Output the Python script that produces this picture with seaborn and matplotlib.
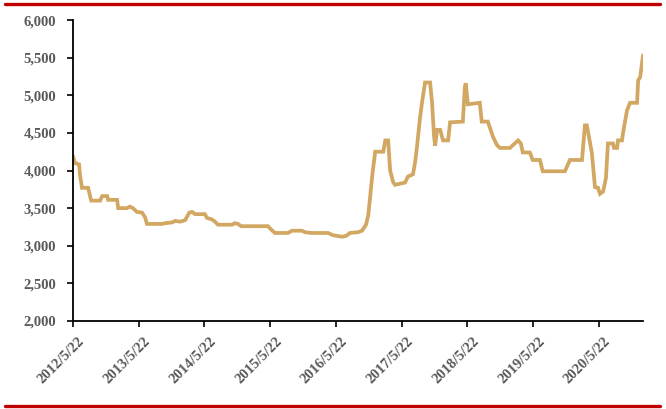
import matplotlib
matplotlib.use("Agg")
import matplotlib.pyplot as plt
import matplotlib.transforms as mtransforms
from matplotlib.lines import Line2D
from matplotlib.ticker import FuncFormatter, MultipleLocator
import pandas as pd
import seaborn as sns

# Price series (yuan/ton), sampled at turning points
dates = [
    "2012-05-22", "2012-06-02", "2012-06-25", "2012-06-30", "2012-07-11", "2012-08-14",
    "2012-08-31", "2012-10-20", "2012-10-31", "2012-11-28", "2012-12-03", "2013-01-22",
    "2013-01-28", "2013-03-18", "2013-04-03", "2013-04-20", "2013-05-12", "2013-06-10",
    "2013-06-26", "2013-07-07", "2013-09-29", "2013-10-16", "2013-11-24", "2013-12-11",
    "2014-01-07", "2014-02-04", "2014-02-27", "2014-03-15", "2014-04-01", "2014-05-25",
    "2014-06-05", "2014-07-03", "2014-07-20", "2014-08-05", "2014-10-22", "2014-11-08",
    "2014-11-25", "2014-12-12", "2015-05-10", "2015-05-26", "2015-06-18", "2015-08-29",
    "2015-09-21", "2015-11-15", "2015-12-02", "2016-01-04", "2016-04-08", "2016-05-06",
    "2016-06-25", "2016-07-17", "2016-08-08", "2016-09-22", "2016-10-14", "2016-11-05",
    "2016-11-17", "2016-11-28", "2016-12-09", "2016-12-26", "2017-02-09", "2017-02-20",
    "2017-03-08", "2017-03-19", "2017-04-04", "2017-04-15", "2017-06-10", "2017-06-26",
    "2017-07-24", "2017-08-04", "2017-08-15", "2017-09-01", "2017-09-12", "2017-09-29",
    "2017-10-27", "2017-11-07", "2017-11-18", "2017-11-24", "2017-12-05", "2017-12-22",
    "2018-01-07", "2018-02-04", "2018-02-15", "2018-04-27", "2018-05-08", "2018-05-13",
    "2018-05-25", "2018-07-30", "2018-08-10", "2018-09-13", "2018-10-11", "2018-11-02",
    "2018-11-19", "2019-01-14", "2019-01-31", "2019-02-28", "2019-03-15", "2019-03-26",
    "2019-05-04", "2019-05-20", "2019-06-29", "2019-07-15", "2019-11-15", "2019-11-26",
    "2019-12-13", "2020-02-18", "2020-03-05", "2020-03-16", "2020-04-13", "2020-04-30",
    "2020-05-17", "2020-05-28", "2020-06-14", "2020-06-30", "2020-07-11", "2020-08-08",
    "2020-08-14", "2020-08-31", "2020-09-05", "2020-09-27", "2020-10-03", "2020-10-25",
    "2020-11-11", "2020-12-20", "2020-12-26", "2021-01-06", "2021-01-22",
]
prices = [
    4190, 4100, 4080, 3940, 3770, 3770,
    3600, 3600, 3660, 3660, 3610, 3610,
    3500, 3500, 3520, 3500, 3450, 3440,
    3380, 3290, 3290, 3300, 3310, 3330,
    3320, 3340, 3440, 3450, 3420, 3420,
    3370, 3350, 3320, 3280, 3280, 3300,
    3290, 3260, 3260, 3220, 3170, 3170,
    3200, 3200, 3180, 3170, 3170, 3140,
    3120, 3130, 3170, 3180, 3200, 3280,
    3400, 3650, 3920, 4250, 4250, 4400,
    4400, 4000, 3850, 3810, 3840, 3920,
    3950, 4100, 4310, 4700, 4900, 5170,
    5170, 4900, 4450, 4330, 4540, 4540,
    4400, 4400, 4640, 4650, 5110, 5160,
    4880, 4900, 4650, 4650, 4450, 4340,
    4300, 4300, 4340, 4400, 4360, 4240,
    4240, 4140, 4140, 3990, 3990, 4050,
    4140, 4140, 4600, 4600, 4230, 3780,
    3770, 3690, 3720, 3900, 4360, 4360,
    4300, 4300, 4400, 4400, 4500, 4800,
    4900, 4900, 5200, 5240, 5530,
]
tick_dates = ["2012-05-22", "2013-05-22", "2014-05-22", "2015-05-22",
              "2016-05-22", "2017-05-22", "2018-05-22", "2019-05-22", "2020-05-22"]
tick_labels = ["2012/5/22", "2013/5/22", "2014/5/22", "2015/5/22",
               "2016/5/22", "2017/5/22", "2018/5/22", "2019/5/22", "2020/5/22"]

df = pd.DataFrame({"date": pd.to_datetime(dates), "price": prices})

sns.set_style("white")
plt.rcParams["font.family"] = ["Liberation Serif", "DejaVu Serif"]

fig = plt.figure(figsize=(6.66, 4.09), dpi=100)
ax = fig.add_axes([0.1096, 0.2152, 0.8559, 0.7358])

sns.lineplot(data=df, x="date", y="price", ax=ax, color="#D2A762",
             linewidth=2.7, solid_joinstyle="miter")

ax.set_xlim(pd.Timestamp("2012-05-22"), pd.Timestamp("2021-01-22"))
ax.set_ylim(2000, 6000)
ax.yaxis.set_major_locator(MultipleLocator(500))
ax.yaxis.set_major_formatter(FuncFormatter(lambda v, p: f"{int(v):,}"))
ax.set_xticks(pd.to_datetime(tick_dates))
ax.set_xticklabels(tick_labels, rotation=45, ha="right", rotation_mode="anchor")

ax.set_xlabel("")
ax.set_ylabel("")
for s in ["top", "right"]:
    ax.spines[s].set_visible(False)
for s in ["left", "bottom"]:
    ax.spines[s].set_color("black")
    ax.spines[s].set_linewidth(1.3)

ax.tick_params(axis="both", direction="out", length=4, width=1.2, color="black",
               labelsize=10.5, labelcolor="#595959", left=True, bottom=True)
ax.tick_params(axis="y", pad=8)
ax.tick_params(axis="x", pad=6)
for lab in ax.get_xticklabels() + ax.get_yticklabels():
    lab.set_fontweight("bold")

# nudge the slanted date labels so their ends sit just right of each tick
shift = mtransforms.ScaledTranslation(5 / 100, 0, fig.dpi_scale_trans)
for lab in ax.get_xticklabels():
    lab.set_transform(lab.get_transform() + shift)

# Red rules above and below the chart
for yy in (0.991, 0.008):
    fig.add_artist(Line2D([0.008, 0.991], [yy, yy], transform=fig.transFigure,
                          color="#C00000", linewidth=2.4))

fig.savefig("out.png", dpi=100)
